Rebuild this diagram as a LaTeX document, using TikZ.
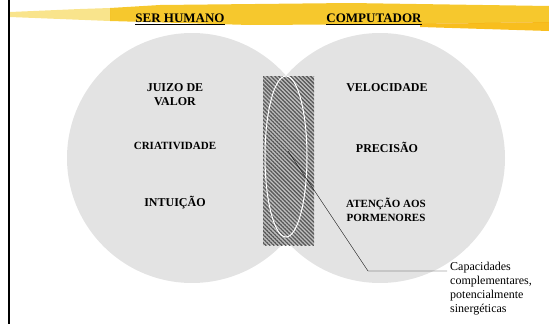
\documentclass[tikz,border=0pt]{standalone}
\usepackage{fontspec}
\setmainfont{Liberation Serif}
\usetikzlibrary{shapes.geometric,patterns.meta,calc}
\definecolor{brushpale}{RGB}{249,228,140}
\definecolor{brushgold}{RGB}{246,200,45}
\definecolor{brushdeep}{RGB}{248,190,30}

\begin{document}
\begin{tikzpicture}[x=1pt,y=-1pt,
  disc/.style={circle, fill=black!11, minimum size=250pt, inner sep=0},
  head/.style={font=\fontsize{13}{15}\selectfont\bfseries},
  item/.style={font=\fontsize{12}{14}\selectfont\bfseries, align=center},
  small/.style={font=\fontsize{11}{14}\selectfont\bfseries, align=center},
  note/.style={font=\fontsize{12}{14}\selectfont, align=left, inner xsep=3pt, inner ysep=0pt}
]
  \useasboundingbox (0,0) rectangle (549,324);

  \node [disc] (human) at (192,158) {};
  \node [disc] (machine) at (380,158) {};
  \draw[line width=2pt] (9,0) -- (9,324);

  \node [rectangle, minimum width=51pt, minimum height=169pt, inner sep=0,
    preaction={fill=black!25},
    pattern={Lines[angle=-45,distance=2.8pt,line width=1.3pt]}, pattern color=black!65] (overlap) at (288.5,160.5) {};
  \node [ellipse, draw=white, line width=1pt, minimum width=42pt, minimum height=161pt, inner sep=0] (syn) at (286,156.5) {};

  \node [head] (t1) at (180,19) {\underline{SER HUMANO}};
  \node [head] (t2) at (374,19) {\underline{COMPUTADOR}};

  % brush stroke over the titles
  \begin{scope}[blend mode=multiply]
    \fill[brushpale] (10,12) -- (80,9) -- (110,8) -- (110,21) -- (60,19) -- (10,17) -- cycle;
    \fill[brushgold] (110,8) -- (160,5) -- (350,3) -- (549,6)
      -- (549,22) -- (420,24) -- (250,25) -- (110,21) -- cycle;
    \fill[brushdeep] (420,24) -- (549,22) -- (549,31) -- (420,27) -- cycle;
  \end{scope}

  \node [item] (juizo) at (175,95) {JUIZO DE\\VALOR};
  \node [small] (criat) at (175,146) {CRIATIVIDADE};
  \node [item] (intui) at (175,203) {INTUIÇÃO};

  \node [item] (veloc) at (387,88) {VELOCIDADE};
  \node [item] (prec) at (387,147) {PRECISÃO};
  \node [small] (atenc) at (386,210) {ATENÇÃO AOS\\PORMENORES};

  \node [note, anchor=north west] (cap) at (447,262) {Capacidades\\complementares,\\potencialmente\\sinergéticas};

  \coordinate (tip) at (288,151);
  \coordinate (elbow) at (368,271);
  \draw (tip) -- (elbow) -- (elbow -| cap.west);
\end{tikzpicture}
\end{document}
